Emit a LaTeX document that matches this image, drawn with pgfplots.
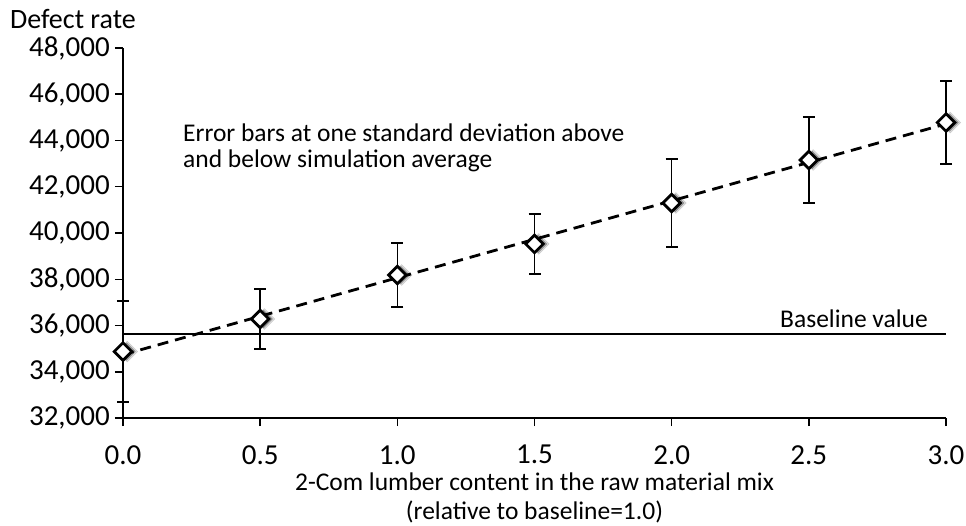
\documentclass[border=0pt]{standalone}
\usepackage{fontspec}
\setmainfont{Carlito}
\usepackage{pgfplots}
\usepackage{pgfplotstable}
\pgfplotsset{compat=1.18}

% simulation averages and one standard deviation
\pgfplotstableread{
x    y      err
0.0  34875  2185
0.5  36281  1297
1.0  38184  1384
1.5  39525  1300
2.0  41297  1900
2.5  43157  1860
3.0  44778  1795
}\defects

\begin{document}
\begin{tikzpicture}
\begin{axis}[
  scale only axis, width=823pt, height=370pt,
  xmin=0, xmax=3, ymin=32000, ymax=48000,
  axis x line=bottom, axis y line=left,
  axis line style={-, line width=1.6pt, black},
  xtick={0,0.5,1,1.5,2,2.5,3},
  ytick={32000,34000,...,48000},
  tick align=outside, major tick length=8pt,
  tick style={line width=1.5pt, black},
  scaled ticks=false,
  font=\fontsize{25.5}{29}\selectfont,
  /pgf/number format/assume math mode=true,
  ticklabel style={font=\fontsize{29}{35}\selectfont},
  xticklabel style={/pgf/number format/fixed, /pgf/number format/fixed zerofill,
    /pgf/number format/precision=1, inner sep=0pt, anchor=north, yshift=-19pt},
  yticklabel style={/pgf/number format/1000 sep={,}, inner sep=0pt, anchor=east, xshift=-5pt},
  xlabel={2-Com lumber content in the raw material mix\\(relative to baseline=1.0)},
  xlabel style={at={(axis description cs:0.5,0)}, anchor=north, yshift=-55pt,
    inner sep=0pt, align=center},
  clip=false,
]
\path (rel axis cs:0,0) ++(-123pt,-107pt) rectangle ++(966pt,525pt);

% baseline
\addplot[black, line width=1.5pt] coordinates {(0,35630) (3,35630)};
\node[anchor=base east, inner sep=0pt, xshift=-18pt, yshift=7pt] at (axis cs:3,35630) {Baseline value};

% marker shadows
\addplot[only marks, mark=square*, mark size=7.4pt,
  mark options={rotate=45, fill=black, draw=none, opacity=0.14, xshift=3pt, yshift=-3pt}]
  table[x=x, y=y]{\defects};
\addplot[only marks, mark=square*, mark size=6.2pt,
  mark options={rotate=45, fill=black, draw=none, opacity=0.28, xshift=2.5pt, yshift=-2.5pt}]
  table[x=x, y=y]{\defects};

% averages with error bars
\addplot[only marks, mark=square*, mark size=6.2pt,
  mark options={rotate=45, fill=white, draw=black, line width=2.8pt},
  error bars/.cd, y dir=both, y explicit,
  error bar style={line width=1.5pt, black},
  error mark options={rotate=90, mark size=6pt, line width=1.5pt, black}]
  table[x=x, y=y, y error=err]{\defects};

% linear trend
\addplot[black, line width=2.8pt, dash pattern=on 11pt off 7pt]
  table[x=x, y={create col/linear regression={y=y}}]{\defects};

\node[anchor=north west, align=left, inner sep=0pt, font=\fontsize{25.5}{26}\selectfont]
  at (rel axis cs:0.0729,0.7946) {Error bars at one standard deviation above\\and below simulation average};
\node[anchor=base west, inner sep=0pt, xshift=-113pt, yshift=19pt, font=\fontsize{28}{34}\selectfont]
  at (rel axis cs:0,1) {Defect rate};
\end{axis}
\end{tikzpicture}
\end{document}
